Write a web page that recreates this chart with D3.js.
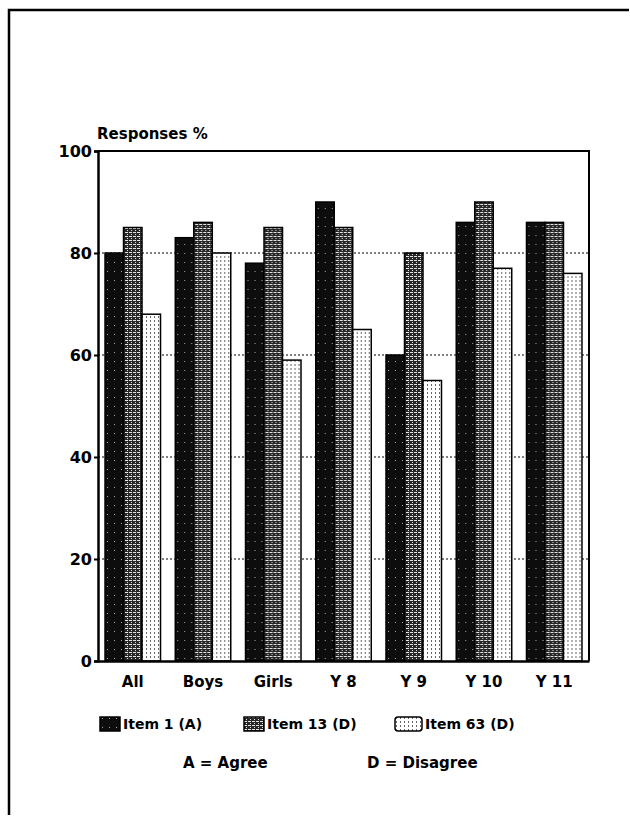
<!DOCTYPE html>
<html>
<head>
<meta charset="utf-8">
<script src="https://cdn.jsdelivr.net/npm/d3@7"></script>
<style>
  body { margin: 0; background: #fff; }
  svg text { font-family: "DejaVu Sans", sans-serif; font-weight: bold; fill: #000; }
</style>
</head>
<body>
<div id="root"></div>
<script>
const categories = ["All", "Boys", "Girls", "Y 8", "Y 9", "Y 10", "Y 11"];
const seriesNames = ["Item 1 (A)", "Item 13 (D)", "Item 63 (D)"];
const item1 = [80, 83, 78, 90, 60, 86, 86];
const item13 = [85, 86, 85, 85, 80, 90, 86];
const item63 = [68, 80, 59, 65, 55, 77, 76];
const yTicks = [0, 20, 40, 60, 80, 100];

const width = 630;
const height = 816;
const margin = { top: 151, left: 98, right: 41, bottom: 155 };
const innerWidth = width - margin.left - margin.right;
const innerHeight = height - margin.top - margin.bottom;

const svg = d3.select("#root")
  .append("svg")
  .attr("width", width)
  .attr("height", height)
  .attr("viewBox", `0 0 ${width} ${height}`);

// textures for the three series
const defs = svg.append("defs");
const p1 = defs.append("pattern").attr("id", "p1").attr("patternUnits", "userSpaceOnUse")
  .attr("width", 7).attr("height", 9);
p1.append("rect").attr("width", 7).attr("height", 9).attr("fill", "#0d0d0d");
p1.append("rect").attr("x", 2).attr("y", 3).attr("width", 1).attr("height", 1).attr("fill", "#aaa");

const p2 = defs.append("pattern").attr("id", "p2").attr("patternUnits", "userSpaceOnUse")
  .attr("width", 4).attr("height", 4);
p2.append("rect").attr("width", 4).attr("height", 4).attr("fill", "#262626");
p2.append("rect").attr("x", 0).attr("y", 1).attr("width", 3).attr("height", 1).attr("fill", "#e6e6e6");
p2.append("rect").attr("x", 2).attr("y", 3).attr("width", 1).attr("height", 1).attr("fill", "#e6e6e6");

const p3 = defs.append("pattern").attr("id", "p3").attr("patternUnits", "userSpaceOnUse")
  .attr("width", 4).attr("height", 4);
p3.append("rect").attr("width", 4).attr("height", 4).attr("fill", "#fff");
p3.append("rect").attr("x", 1).attr("y", 1).attr("width", 1).attr("height", 2).attr("fill", "#666");

const fills = ["url(#p1)", "url(#p2)", "url(#p3)"];
const series = [item1, item13, item63];

// outer frame of the page
svg.append("path")
  .attr("d", `M9,${height - 1} L9,10 L${width - 1},10`)
  .attr("fill", "none")
  .attr("stroke", "#000")
  .attr("stroke-width", 2.5);

const innerChart = svg.append("g")
  .attr("transform", `translate(${margin.left}, ${margin.top})`);

const xScale = d3.scaleBand().domain(categories).range([0, innerWidth])
  .paddingInner(0.21).paddingOuter(0.1);
const x1 = d3.scaleBand().domain(d3.range(3)).range([0, xScale.bandwidth()]);
const yScale = d3.scaleLinear().domain([0, 100]).range([innerHeight, 0]);

// dotted gridlines
innerChart.selectAll(".grid")
  .data(yTicks.filter((d) => d > 0 && d < 100))
  .join("line")
  .attr("x1", 0).attr("x2", innerWidth)
  .attr("y1", (d) => yScale(d)).attr("y2", (d) => yScale(d))
  .attr("stroke", "#000")
  .attr("stroke-width", 1.2)
  .attr("stroke-dasharray", "2,2");

// bars
const groups = innerChart.selectAll(".group")
  .data(categories)
  .join("g")
  .attr("transform", (d) => `translate(${xScale(d)},0)`);

groups.selectAll("rect")
  .data((d, i) => series.map((s, k) => ({ k, v: s[i] })))
  .join("rect")
  .attr("x", (d) => x1(d.k))
  .attr("y", (d) => yScale(d.v))
  .attr("width", x1.bandwidth())
  .attr("height", (d) => innerHeight - yScale(d.v))
  .attr("fill", (d) => fills[d.k])
  .attr("stroke", "#000")
  .attr("stroke-width", 1.5);

// plot frame: top and right
innerChart.append("path")
  .attr("d", `M0,0 L${innerWidth},0 L${innerWidth},${innerHeight}`)
  .attr("fill", "none")
  .attr("stroke", "#000")
  .attr("stroke-width", 2);

// left axis (lines from d3, labels placed with the scale)
const leftAxis = d3.axisLeft(yScale).tickValues(yTicks).tickSize(4).tickFormat("");
const gy = innerChart.append("g").call(leftAxis);
gy.select(".domain").attr("stroke-width", 2.5);
gy.selectAll("line").attr("stroke-width", 2);
innerChart.selectAll(".ylab")
  .data(yTicks)
  .join("text")
  .attr("class", "ylab")
  .attr("x", -6)
  .attr("y", (d) => yScale(d) + 6)
  .attr("text-anchor", "end")
  .attr("font-size", 16)
  .text((d) => d);

// bottom axis
const bottomAxis = d3.axisBottom(xScale).tickSize(0).tickFormat("");
const gx = innerChart.append("g")
  .attr("transform", `translate(0, ${innerHeight})`)
  .call(bottomAxis);
gx.select(".domain").attr("stroke-width", 2.5);
innerChart.selectAll(".xlab")
  .data(categories)
  .join("text")
  .attr("class", "xlab")
  .attr("x", (d) => xScale(d) + xScale.bandwidth() / 2)
  .attr("y", innerHeight + 26)
  .attr("text-anchor", "middle")
  .attr("font-size", 15)
  .text((d) => d);

// axis title
svg.append("text")
  .attr("x", 97).attr("y", 139)
  .attr("font-size", 15)
  .text("Responses %");

// legend
const legendX = [100, 244, 395];
const legend = svg.selectAll(".legend")
  .data(seriesNames)
  .join("g")
  .attr("transform", (d, i) => `translate(${legendX[i]}, 724)`);
legend.append("rect")
  .attr("x", 0).attr("y", -7)
  .attr("width", (d, i) => (i === 2 ? 27 : 20))
  .attr("height", 14)
  .attr("rx", (d, i) => (i === 2 ? 3 : 0))
  .attr("fill", (d, i) => fills[i])
  .attr("stroke", "#000")
  .attr("stroke-width", 1.5);
legend.append("text")
  .attr("x", (d, i) => (i === 2 ? 30 : 23))
  .attr("y", 5)
  .attr("font-size", 14)
  .text((d) => d);

svg.append("text").attr("x", 183).attr("y", 768).attr("font-size", 15).text("A = Agree");
svg.append("text").attr("x", 367).attr("y", 768).attr("font-size", 15).text("D = Disagree");
</script>
</body>
</html>
